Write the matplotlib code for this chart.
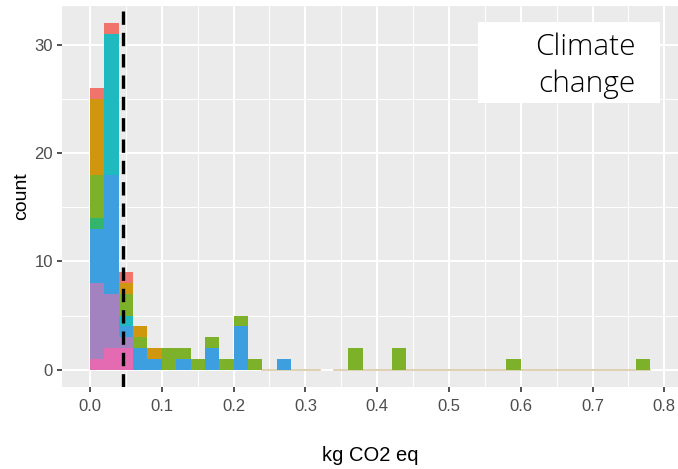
import numpy as np
import matplotlib
matplotlib.use("Agg")
import matplotlib.pyplot as plt
from matplotlib.patches import Rectangle

# ---- data ----
bin_width = 0.02
bin_left = [0.00, 0.02, 0.04, 0.06, 0.08, 0.10, 0.12, 0.14, 0.16, 0.18,
            0.20, 0.22, 0.26, 0.36, 0.42, 0.58, 0.76]
# stacking order bottom -> top
groups = ["pink", "purple", "blue", "cyan", "teal", "green", "orange", "red"]
colors = ["#e46ab2", "#a283c0", "#3d9fdf", "#1fbac0", "#33b56c", "#7db12a", "#d0960e", "#f0736c"]
counts = {
    "pink":   [1, 2, 2, 0, 0, 0, 0, 0, 0, 0, 0, 0, 0, 0, 0, 0, 0],
    "purple": [7, 5, 1, 0, 0, 0, 0, 0, 0, 0, 0, 0, 0, 0, 0, 0, 0],
    "blue":   [5, 11, 1, 2, 1, 0, 1, 0, 2, 0, 4, 0, 1, 0, 0, 0, 0],
    "cyan":   [0, 13, 1, 0, 0, 0, 0, 0, 0, 0, 0, 0, 0, 0, 0, 0, 0],
    "teal":   [1, 0, 0, 0, 0, 0, 0, 0, 0, 0, 0, 0, 0, 0, 0, 0, 0],
    "green":  [4, 0, 2, 1, 0, 2, 1, 1, 1, 1, 1, 1, 0, 2, 2, 1, 1],
    "orange": [7, 0, 1, 1, 1, 0, 0, 0, 0, 0, 0, 0, 0, 0, 0, 0, 0],
    "red":    [1, 1, 1, 0, 0, 0, 0, 0, 0, 0, 0, 0, 0, 0, 0, 0, 0],
}
zero_line_segments = [(0.24, 0.32), (0.34, 0.78)]
mean_value = 0.046
x_ticks = [0.0, 0.1, 0.2, 0.3, 0.4, 0.5, 0.6, 0.7, 0.8]
y_ticks = [0, 10, 20, 30]
x_label = "kg CO2 eq"
y_label = "count"
panel_title = "Climate\nchange"

# ---- plot ----
W, H = 678, 469
fig = plt.figure(figsize=(W / 100, H / 100), dpi=100)
fig.patch.set_facecolor("white")
ax = fig.add_axes([62 / W, (H - 387) / H, 1 - 62 / W, (387 - 6) / H])
ax.set_facecolor("#ebebeb")

xmin, xmax = -0.039, 0.819
ymin, ymax = -1.6, 33.6
ax.set_xlim(xmin, xmax)
ax.set_ylim(ymin, ymax)

# grid
for v in np.arange(0.05, 0.8, 0.1):
    ax.axvline(v, color="white", lw=0.7, zorder=0)
for v in [5, 15, 25]:
    ax.axhline(v, color="white", lw=0.7, zorder=0)
for v in x_ticks:
    ax.axvline(v, color="white", lw=1.5, zorder=0)
for v in y_ticks:
    ax.axhline(v, color="white", lw=1.5, zorder=0)

for a, b in zero_line_segments:
    ax.plot([a, b], [0, 0], color="#d8c8a6", lw=1.2, zorder=1)

bottom = np.zeros(len(bin_left))
centers = np.array(bin_left) + bin_width / 2
for g, c in zip(groups, colors):
    vals = np.array(counts[g], dtype=float)
    ax.bar(centers, vals, width=bin_width, bottom=bottom, color=c,
           linewidth=0, zorder=2)
    bottom += vals

ax.axvline(mean_value, color="black", lw=2.4, linestyle=(0, (4, 2.4)), zorder=3)

for s in ax.spines.values():
    s.set_visible(False)

ax.set_xticks(x_ticks)
ax.set_xticklabels([f"{v:.1f}" for v in x_ticks])
ax.set_yticks(y_ticks)
ax.tick_params(axis="both", colors="#333333", length=3.5, width=1.2,
               labelsize=12, labelcolor="#4d4d4d")
for lab in ax.get_xticklabels() + ax.get_yticklabels():
    lab.set_family("Liberation Sans")
ax.tick_params(axis="x", pad=5)
ax.tick_params(axis="y", pad=3)

fig.text(370 / W, 1 - 455 / H, x_label, ha="center", va="center",
         fontsize=14.5, family="Liberation Sans", color="black")
fig.text(22 / W, 1 - 196 / H, y_label, ha="center", va="center",
         rotation=90, fontsize=14, family="Liberation Sans", color="black")

# title box
fig.patches.append(Rectangle((478 / W, 1 - 103 / H), (660 - 478) / W, (103 - 22) / H,
                             transform=fig.transFigure, facecolor="white",
                             edgecolor="none", zorder=5))
for line, base in zip(panel_title.split("\n"), [55, 92]):
    fig.text(636 / W, 1 - base / H, line, ha="right", va="baseline",
             fontsize=21.5, family="Open Sans", fontweight="light",
             color="black", zorder=6)

fig.savefig("out.png", dpi=100)
